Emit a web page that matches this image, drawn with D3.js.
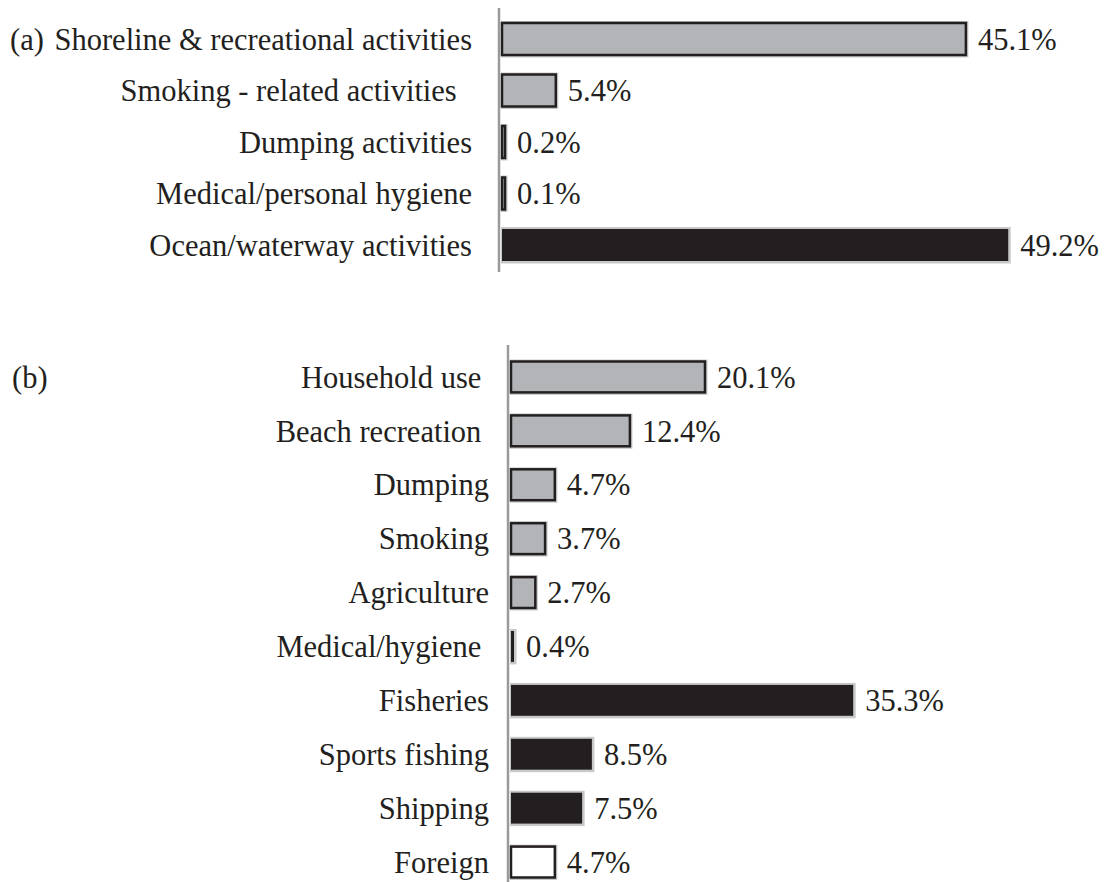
<!doctype html>
<head>
  <meta charset="utf-8">
  <title>Litter sources - bar chart</title>
  <script src="https://cdn.jsdelivr.net/npm/d3@7"></script>
  <style>
    body { margin: 0; background: #fff; }
    svg { display: block; }
    text { font-family: "Liberation Serif", "Times New Roman", serif; fill: #231f20; white-space: pre; }
  </style>
</head>
<body>
  <div id="chart"></div>
  <script>
    // panel (a)
    var catsA = ['Shoreline & recreational activities', 'Smoking - related activities  ',
                 'Dumping activities', 'Medical/personal hygiene', 'Ocean/waterway activities'];
    var valsA = [45.1, 5.4, 0.2, 0.1, 49.2];
    var typeA = ['land', 'land', 'land', 'land', 'sea'];

    // panel (b)
    var catsB = ['Household use ', 'Beach recreation ', 'Dumping', 'Smoking', 'Agriculture',
                 'Medical/hygiene ', 'Fisheries', 'Sports fishing', 'Shipping', 'Foreign'];
    var valsB = [20.1, 12.4, 4.7, 3.7, 2.7, 0.4, 35.3, 8.5, 7.5, 4.7];
    var typeB = ['land', 'land', 'land', 'land', 'land', 'sea', 'sea', 'sea', 'sea', 'foreign'];

    var fills = { land: '#b3b4b8', sea: '#231f20', foreign: '#ffffff' };
    var fontSize = 30.5;

    var svg = d3.select('#chart').append('svg')
      .attr('width', 1104)
      .attr('height', 882);

    function panel(cats, vals, types, opt) {
      var x = d3.scaleLinear().domain([0, 1]).range([opt.x0, opt.x0 + opt.pxPer]);
      var y = d3.scaleBand().domain(cats).range(opt.yRange)
        .paddingInner(opt.pad).paddingOuter(opt.pad / 2);
      var g = svg.append('g');
      var rows = cats.map(function(c, i) { return { c: c, v: vals[i], t: types[i] }; });
      function barW(d) { return Math.max(x(d.v) - opt.x0, 5); }

      // axis line
      g.append('line')
        .attr('x1', opt.x0 - 2).attr('x2', opt.x0 - 2)
        .attr('y1', opt.axisY[0]).attr('y2', opt.axisY[1])
        .attr('stroke', '#9a9a9a').attr('stroke-width', 2.5);

      // soft shadow
      g.selectAll('rect.shadow').data(rows).enter().append('rect')
        .attr('class', 'shadow')
        .attr('x', opt.x0)
        .attr('y', function(d) { return y(d.c) - 1; })
        .attr('width', function(d) { return barW(d) + 1.5; })
        .attr('height', y.bandwidth() + 2.5)
        .attr('fill', '#c8c8c8');

      g.selectAll('rect.bar').data(rows).enter().append('rect')
        .attr('class', 'bar')
        .attr('x', opt.x0 + 1)
        .attr('y', function(d) { return y(d.c) + 1; })
        .attr('width', function(d) { return barW(d) - 2; })
        .attr('height', y.bandwidth() - 2)
        .attr('fill', function(d) { return fills[d.t]; })
        .attr('stroke', '#231f20')
        .attr('stroke-width', function(d) { return d.t === 'sea' ? 0 : 2.5; });

      // category labels
      g.selectAll('text.cat').data(rows).enter().append('text')
        .attr('class', 'cat')
        .attr('x', opt.labelX)
        .attr('y', function(d) { return y(d.c) + y.bandwidth() / 2; })
        .attr('dy', '0.35em')
        .attr('text-anchor', 'end')
        .attr('font-size', fontSize)
        .text(function(d) { return d.c; });

      // value labels
      g.selectAll('text.val').data(rows).enter().append('text')
        .attr('class', 'val')
        .attr('x', function(d) { return opt.x0 + barW(d) + 11; })
        .attr('y', function(d) { return y(d.c) + y.bandwidth() / 2; })
        .attr('dy', '0.35em')
        .attr('font-size', fontSize)
        .text(function(d) { return d.v.toFixed(1) + '%'; });
      return y;
    }

    var yA = panel(catsA, valsA, typeA, {
      x0: 501, pxPer: 10.33, yRange: [13.25, 270.75], pad: 0.34,
      axisY: [8, 272], labelX: 472
    });

    var yB = panel(catsB, valsB, typeB, {
      x0: 510, pxPer: 9.75, yRange: [350, 889], pad: 0.39,
      axisY: [345, 882], labelX: 489
    });

    // panel letters
    svg.append('text')
      .attr('x', 10)
      .attr('y', yA(catsA[0]) + yA.bandwidth() / 2)
      .attr('dy', '0.35em')
      .attr('font-size', fontSize)
      .text('(a)');

    svg.append('text')
      .attr('x', 12)
      .attr('y', yB(catsB[0]) + yB.bandwidth() / 2)
      .attr('dy', '0.35em')
      .attr('font-size', fontSize)
      .text('(b)');
  </script>
</body>
</html>
